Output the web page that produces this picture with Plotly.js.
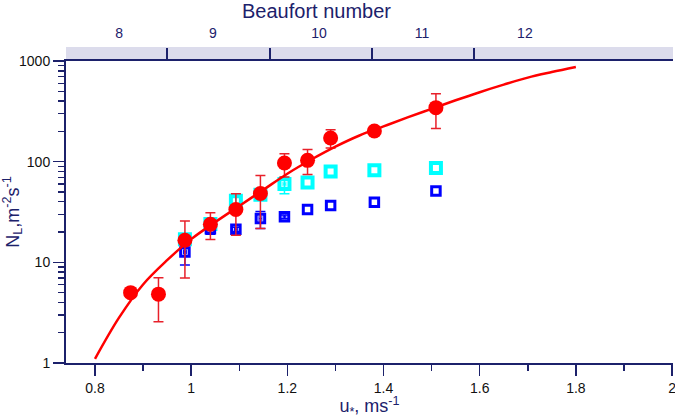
<!DOCTYPE html>
<html>
<head>
<meta charset="utf-8">
<script src="https://cdn.plot.ly/plotly-3.0.1.min.js"></script>
<style>html,body{margin:0;padding:0;background:#fff;}#chart{width:675px;height:419px;}</style>
</head>
<body>
<div id="chart"></div>
<script>
// Red circles: N_L vs u*
const uRed = [0.874, 0.932, 0.987, 1.04, 1.093, 1.144, 1.194, 1.242, 1.29, 1.381, 1.509];
const nRed = [5.0, 4.83, 16.6, 23.9, 33.5, 48.2, 97, 103, 172, 202, 344];
const nRedErrPlus = [NaN, 2.2, 9.2, 7.1, 14.5, 24.6, 23, 29, 36, NaN, 130];
const nRedErrMinus = [NaN, 2.26, 9.6, 7.0, 14.9, 26.5, 26.5, 28.5, 35, NaN, 131];

// Cyan and blue open squares
const uSq = [0.987, 1.04, 1.093, 1.144, 1.194, 1.242, 1.29, 1.381, 1.509];
const nCyan = [17, 24, 41, 47, 60, 62, 80, 82, 86.6];
const nCyanErrPlus = [2, 2, 3, 3, 10, NaN, NaN, NaN, NaN];
const nCyanErrMinus = [2, 2, 3, 3, 12, NaN, NaN, NaN, NaN];
const uCyanErr = [NaN, NaN, NaN, NaN, 0.003, NaN, NaN, NaN, NaN];
const nBlue = [12.7, 21.5, 21.3, 27.2, 28.3, 33.5, 36.7, 39.6, 51.2];
const nBlueErrPlus = [3.5, 2.5, 1, 4.8, 1.2, NaN, NaN, NaN, NaN];
const nBlueErrMinus = [3.3, 2.5, 1, 5.5, 1.2, NaN, NaN, NaN, NaN];
const uBlueErr = [0.003, NaN, 0.003, 0.003, 0.003, NaN, NaN, NaN, NaN];

// Red fitted curve
const uFit = [0.80, 0.85, 0.90, 0.95, 1.00, 1.05, 1.10, 1.15, 1.20, 1.25, 1.30, 1.35, 1.40, 1.45, 1.50, 1.55, 1.60, 1.65, 1.70, 1.75, 1.80];
const nFit = [1.10, 2.82, 6.03, 10.5, 17.0, 25.1, 36.3, 52.5, 75.9, 105, 141, 182, 224, 275, 335, 407, 490, 582, 684, 776, 871];

// Axes
const xTicks = [0.8, 1, 1.2, 1.4, 1.6, 1.8, 2];
const xTickText = ['0.8', '1', '1.2', '1.4', '1.6', '1.8', '2'];
const yTicks = [1, 10, 100, 1000];
const yTickText = ['1', '10', '100', '1000'];
const yMinor = [2,3,4,5,6,7,8,9,20,30,40,50,60,70,80,90,200,300,400,500,600,700,800,900];

// Beaufort scale (top axis)
const beaufortNums = ['8', '9', '10', '11', '12'];
const beaufortCenters = [0.85, 1.045, 1.266, 1.48, 1.694];
const beaufortBounds = [0.95, 1.164, 1.376, 1.588];

const navy = '#1c216b';
const xRange = [0.7397, 2.002];

const traces = [
  {
    x: uSq, y: nCyan, type: 'scatter', mode: 'markers',
    marker: {symbol: 'square-open', size: 10, color: '#00ffff', line: {width: 4, color: '#00ffff'}},
    error_y: {type: 'data', symmetric: false, array: nCyanErrPlus, arrayminus: nCyanErrMinus, color: '#00ffff', thickness: 1.5, width: 5},
    error_x: {type: 'data', array: uCyanErr, color: '#00ffff', thickness: 1, width: 2.5},
    hoverinfo: 'skip', showlegend: false
  },
  {
    x: uSq, y: nBlue, type: 'scatter', mode: 'markers',
    marker: {symbol: 'square-open', size: 8.5, color: '#0000ff', line: {width: 3, color: '#0000ff'}},
    error_y: {type: 'data', symmetric: false, array: nBlueErrPlus, arrayminus: nBlueErrMinus, color: '#0000ff', thickness: 1.5, width: 5},
    error_x: {type: 'data', array: uBlueErr, color: '#0000ff', thickness: 1, width: 2.5},
    hoverinfo: 'skip', showlegend: false
  },
  {
    x: uFit, y: nFit, type: 'scatter', mode: 'lines', xaxis: 'x2',
    line: {color: '#ff0000', width: 2.5, shape: 'spline'},
    hoverinfo: 'skip', showlegend: false
  },
  {
    x: uRed, y: nRed, type: 'scatter', mode: 'markers',
    marker: {symbol: 'circle', size: 15, color: '#ff0000'},
    error_y: {type: 'data', symmetric: false, array: nRedErrPlus, arrayminus: nRedErrMinus, color: '#e8202a', thickness: 1.5, width: 5},
    hoverinfo: 'skip', showlegend: false
  }
];

const layout = {
  width: 675, height: 419,
  margin: {l: 66, r: 2, t: 61, b: 56},
  paper_bgcolor: '#ffffff', plot_bgcolor: '#ffffff',
  font: {family: 'Liberation Sans, Arial, sans-serif', size: 14, color: '#111111'},
  xaxis: {
    range: xRange, tickvals: xTicks, ticktext: xTickText,
    ticks: 'outside', ticklen: 11, tickwidth: 1.5, tickcolor: navy,
    ticklabeloverflow: 'allow',
    minor: {dtick: 0.1, tick0: 0.8, ticks: 'outside', ticklen: 6, tickwidth: 1.5, tickcolor: navy},
    showline: true, linecolor: navy, linewidth: 2, showgrid: false, zeroline: false,
    tickfont: {size: 14, color: '#111111'},
    title: {text: 'u<sub>*</sub>, ms<sup>-1</sup>', font: {size: 18, color: navy}, standoff: 6}
  },
  xaxis2: {
    overlaying: 'x', side: 'top', anchor: 'y', range: xRange,
    tickvals: beaufortCenters, ticktext: beaufortNums,
    ticks: 'outside', ticklen: 15, tickcolor: 'rgba(0,0,0,0)',
    minor: {tickvals: beaufortBounds, ticks: 'outside', ticklen: 11, tickwidth: 1.5, tickcolor: navy},
    showline: true, linecolor: navy, linewidth: 2, showgrid: false, zeroline: false,
    tickfont: {size: 14, color: navy}
  },
  yaxis: {
    type: 'log', range: [0, 3], tickvals: yTicks, ticktext: yTickText,
    ticks: 'outside', ticklen: 11, tickwidth: 1.5, tickcolor: navy,
    minor: {tickvals: yMinor, ticks: 'outside', ticklen: 6, tickwidth: 1.5, tickcolor: navy},
    showline: true, linecolor: navy, linewidth: 2, showgrid: false, zeroline: false,
    tickfont: {size: 14, color: '#111111'},
    title: {text: 'N<sub>L</sub>,m<sup>-2</sup>s<sup>-1</sup>', font: {size: 18, color: navy}, standoff: 6}
  },
  shapes: [
    {type: 'rect', xref: 'paper', yref: 'paper', x0: 0, x1: 1, y0: 1, y1: 1 + 14 / 302,
     fillcolor: '#dcdcec', line: {width: 0}, layer: 'below'}
  ],
  annotations: [
    {text: 'Beaufort number', xref: 'paper', yref: 'paper', x: 0.412, y: 1, yshift: 50,
     xanchor: 'center', yanchor: 'middle', showarrow: false, font: {size: 20, color: navy}}
  ]
};

Plotly.newPlot('chart', traces, layout, {staticPlot: true, displayModeBar: false});
</script>
</body>
</html>
